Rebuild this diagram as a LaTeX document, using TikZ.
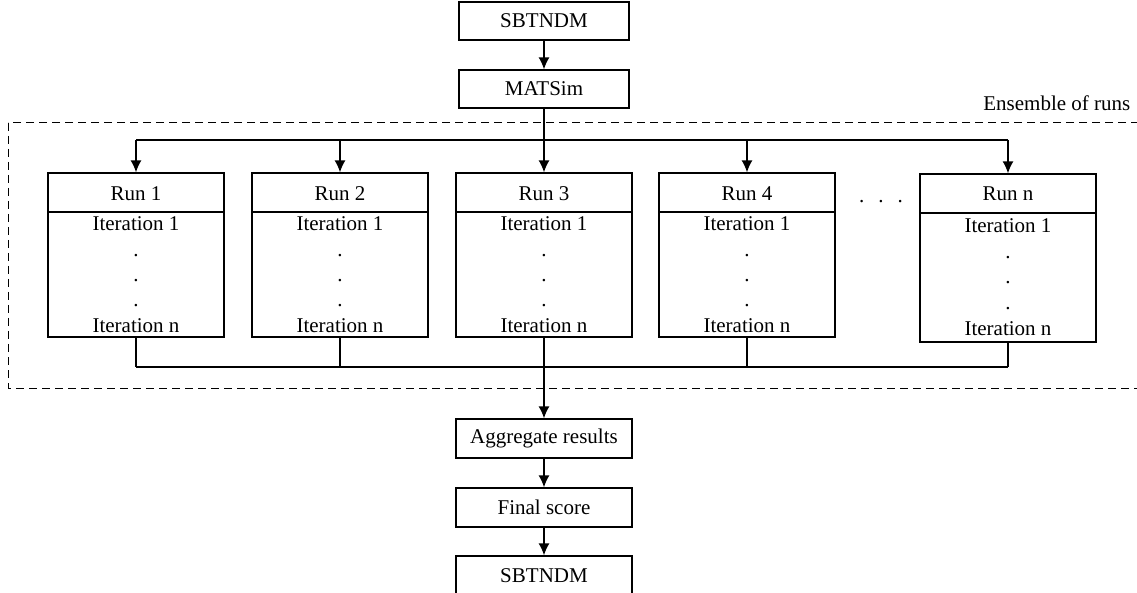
\documentclass[tikz,border=0pt]{standalone}
\usepackage{fontspec}
\setmainfont{Liberation Serif}
\usetikzlibrary{arrows.meta}
\begin{document}
\begin{tikzpicture}[x=1pt,y=-1pt,
  line width=1.4pt,
  every node/.style={font=\fontsize{21}{25}\selectfont, inner sep=0pt},
  box/.style={draw, line width=1.3pt, minimum width=176pt, minimum height=39pt},
  headbox/.style={box},
  bodybox/.style={draw, line width=1.3pt, minimum width=176pt},
  txt/.style={anchor=base},
  arr/.style={-{Latex[length=12pt,width=11pt]}},
  ensemble/.style={draw, dashed, dash pattern=on 8pt off 5pt, line width=1pt}]
\clip (0,0) rectangle (1137,593);

% input models
\node[box, minimum width=170pt, minimum height=38pt] (src) at (544,21) {SBTNDM};
\node[box, minimum width=170pt, minimum height=38pt] (mats) at (544,89) {MATSim};

% ensemble frame
\draw[ensemble] (8,123) rectangle (1160,388);
\node[anchor=base east] (enslabel) at (1131,111) {Ensemble of runs};

% runs
\foreach \i/\x in {1/136,2/340,3/544,4/747}{
  \node[headbox] (h\i) at (\x,192.5) {};
  \node[txt] (t\i) at (\x,201) {Run \i};
  \node[bodybox, minimum height=125pt] (b\i) at (\x,274.5) {};
  \node[txt] (f\i) at (\x,231) {Iteration 1};
  \node[txt] (d\i a) at (\x,257) {.};
  \node[txt] (d\i b) at (\x,282) {.};
  \node[txt] (d\i c) at (\x,307) {.};
  \node[txt] (l\i) at (\x,333) {Iteration n};
}
% last run
\node[headbox] (hn) at (1008,193.5) {};
\node[txt] (tn) at (1008,201) {Run n};
\node[bodybox, minimum height=129pt] (bn) at (1008,277.5) {};
\node[txt] (fn) at (1008,233) {Iteration 1};
\node[txt] (dna) at (1008,259) {.};
\node[txt] (dnb) at (1008,284) {.};
\node[txt] (dnc) at (1008,309) {.};
\node[txt] (ln) at (1008,336) {Iteration n};

% omitted runs
\node[txt] (gap) at (881,203) {.\hspace{14pt}.\hspace{14pt}.};

% downstream steps
\node[box] (agg) at (544,438.5) {Aggregate results};
\node[box] (score) at (544,507.5) {Final score};
\node[box] (out) at (544,575.5) {SBTNDM};

% fan-out
\coordinate (split) at (544,140);
\coordinate (join) at (544,367);
\draw[arr] (src) -- (mats);
\draw (mats.south) -- (split);
\draw (split -| h1.north) -- (split -| hn.north);
\foreach \n in {h1,h2,h3,h4,hn}{
  \draw[arr] (split -| \n.north) -- (\n.north);
}
% fan-in
\draw (join -| b1.south) -- (join -| bn.south);
\foreach \n in {b1,b2,b4,bn}{
  \draw (\n.south) -- (join -| \n.south);
}
\draw[arr] (b3.south) -- (agg.north);
\draw[arr] (agg) -- (score);
\draw[arr] (score) -- (out);
\end{tikzpicture}
\end{document}
